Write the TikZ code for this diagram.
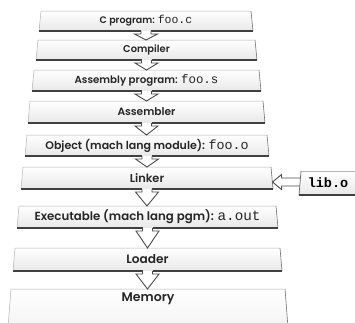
\documentclass[tikz,border=0pt]{standalone}
\usepackage{fontspec}
\newfontfamily\pop{Poppins SemiBold}
\newfontfamily\mono{Liberation Mono}
\usetikzlibrary{calc}
\newcommand\mytt[1]{{\mono\fontsize{11.5}{12}\selectfont #1}}
\tikzset{
  boxtext/.style={inner sep=0pt, font=\pop\fontsize{9.5}{11}\selectfont, text=black!85},
  arrline/.style={draw=black!70, line width=0.9pt, fill=white, line join=miter},
  edgelight/.style={draw=black!30, line width=0.5pt},
  edgeright/.style={draw=black!55, line width=0.6pt},
  edgeshadow/.style={draw=black!75, line width=1.3pt},
}
% name, top, bottom, left(top), right(top), scale, text
\newcommand\pbox[7]{%
  \shade[top color=white,bottom color=black!9] (#4,#2) -- (#5,#2) -- ({#5+2},#3) -- ({#4-2},#3) -- cycle;
  \draw[edgelight] ({#4-2},#3) -- (#4,#2) -- (#5,#2);
  \draw[edgeright] (#5,#2) -- ({#5+2},#3);
  \draw[edgeshadow] ({#4-2},#3) -- ({(#4+#5)/2-5},#3);
  \draw[edgeshadow] ({(#4+#5)/2+5},#3) -- ({#5+2},#3);
  \coordinate (#1-n) at ({(#4+#5)/2},#2);
  \coordinate (#1-s) at ({(#4+#5)/2},#3);
  \coordinate (#1-e) at ({#5+1.5},{(#2+#3)/2+4});
  \node[boxtext, scale=#6] (#1) at ({(#4+#5)/2},{(#2+#3)/2}) {#7};
}
\newcommand\varr[2]{%
  \draw[arrline] let \p1=(#1-s), \p2=(#2-n) in
    (\x1-5pt,\y1) -- (\x1-5pt,\y1-3pt) -- (\x1-11.5pt,\y1-3pt) -- (\x1,\y2) --
    (\x1+11.5pt,\y1-3pt) -- (\x1+5pt,\y1-3pt) -- (\x1+5pt,\y1);
}
\begin{document}
\begin{tikzpicture}[x=1pt,y=-1pt]
\useasboundingbox (0,0) rectangle (355,322);
\clip (0,0) rectangle (355,322);
\pbox{b0}{11}{31}{41}{251}{1.00}{C program: \mytt{foo.c}}
\pbox{b1}{40}{60}{38}{255}{1.04}{Compiler}
\pbox{b2}{70}{91}{34}{259}{1.08}{Assembly program: \mytt{foo.s}}
\pbox{b3}{101}{123}{30}{263}{1.12}{Assembler}
\pbox{b4}{135}{156}{27}{267}{1.16}{Object (mach lang module): \mytt{foo.o}}
\pbox{b5}{167}{189}{23}{271}{1.20}{Linker}
\pbox{b6}{206}{228}{19}{276}{1.24}{Executable (mach lang pgm): \mytt{a.out}}
\pbox{b7}{248}{271}{15}{280}{1.28}{Loader}
% Memory (cut off at the bottom)
\shade[top color=white,bottom color=black!6] (11,289) -- (285,289) -- (289,340) -- (7,340) -- cycle;
\draw[edgelight] (7,340) -- (11,289) -- (285,289);
\draw[edgeright] (285,289) -- (289,340);
\coordinate (b8-n) at (148,289);
\node[boxtext, scale=1.32] (b8) at (148,299) {Memory};
% arrows
\varr{b0}{b1}
\varr{b1}{b2}
\varr{b2}{b3}
\varr{b3}{b4}
\varr{b4}{b5}
\varr{b5}{b6}
\varr{b6}{b7}
\varr{b7}{b8}
% lib.o
\coordinate (lib-w) at (300,183);
\draw[arrline] let \p1=(b5-e), \p2=(lib-w) in
  (\x2+2pt,\y1+4pt) -- (\x1+9pt,\y1+4pt) -- (\x1+9pt,\y1+7.5pt) -- (\x1,\y1) --
  (\x1+9pt,\y1-7.5pt) -- (\x1+9pt,\y1-4pt) -- (\x2+2pt,\y1-4pt);
\shade[top color=white,bottom color=black!9] (301,171) -- (360,171) -- (360,195) -- (299,195) -- cycle;
\draw[edgelight] (360,171) -- (301,171);
\draw[draw=black!60, line width=0.7pt] (301,171) -- (299,195);
\draw[edgeshadow] (299,195) -- (360,195);
\node[inner sep=0pt, font=\mono\bfseries\fontsize{13.5}{14}\selectfont] (lib) at (328,183) {lib.o};
\end{tikzpicture}
\end{document}
